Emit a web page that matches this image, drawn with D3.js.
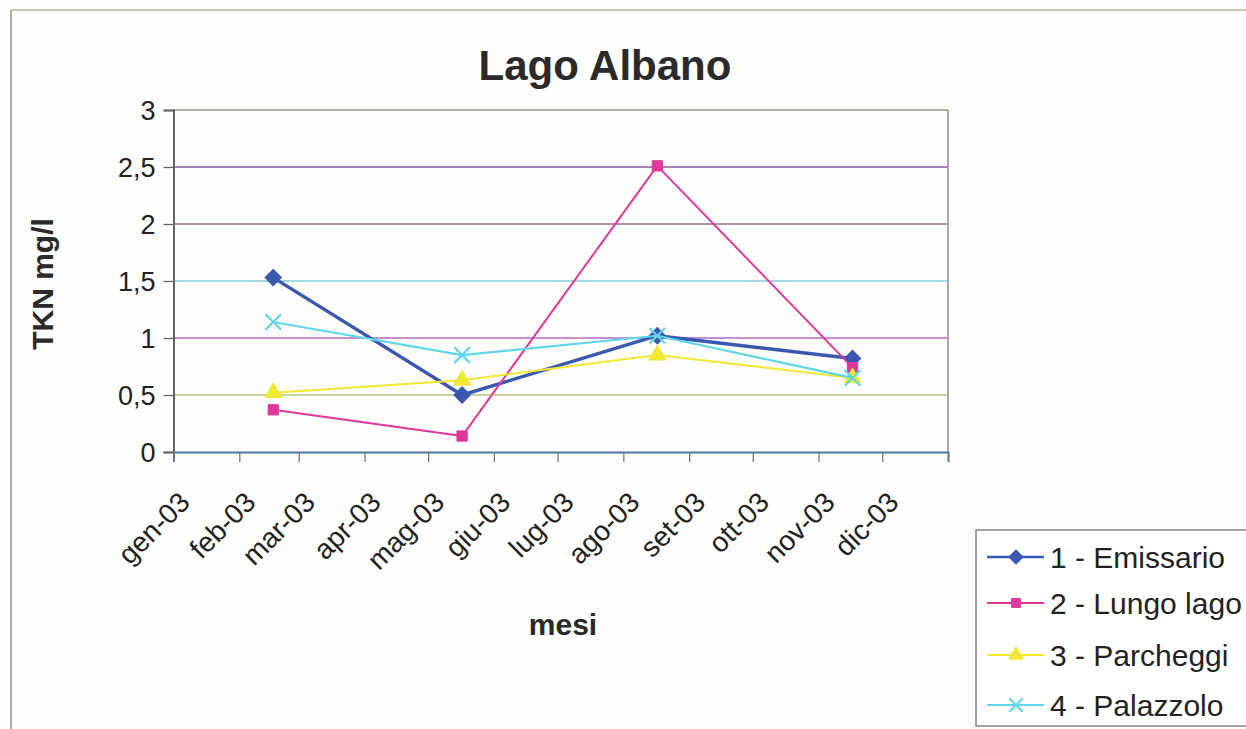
<!DOCTYPE html>
<html>
<head>
<meta charset="utf-8">
<script src="https://cdn.jsdelivr.net/npm/d3@7"></script>
<style>
  html, body { margin: 0; padding: 0; background: #fdfdfb; }
  svg { display: block; font-family: Arial, "Liberation Sans", sans-serif; }
</style>
</head>
<body>
<svg id="chart" width="1246" height="729"></svg>
<script>
// Sampling dates (2003) and TKN concentrations (mg/l) per station
const sampleDates = ["2003-02-17", "2003-05-17", "2003-08-17", "2003-11-17"];
const emissario  = [1.53, 0.50, 1.02, 0.82];
const lungoLago  = [0.37, 0.14, 2.51, 0.74];
const parcheggi  = [0.52, 0.63, 0.85, 0.65];
const palazzolo  = [1.14, 0.85, 1.02, 0.65];

const seriesNames = ["1 - Emissario", "2 - Lungo lago", "3 - Parcheggi", "4 - Palazzolo"];
const monthLabels = ["gen-03", "feb-03", "mar-03", "apr-03", "mag-03", "giu-03",
                     "lug-03", "ago-03", "set-03", "ott-03", "nov-03", "dic-03"];
const yTicks = [0, 0.5, 1, 1.5, 2, 2.5, 3];

const parse = d3.timeParse("%Y-%m-%d");
const seriesValues = [emissario, lungoLago, parcheggi, palazzolo];
const series = seriesNames.map((name, i) => ({
  name,
  points: sampleDates.map((d, j) => ({ date: parse(d), value: seriesValues[i][j] }))
}));

// marker styles: the diamond is a square turned by 45 degrees
const styles = [
  { color: "#3a58b0", width: 3.4, symbol: d3.symbolSquare,   size: 135, rotate: 45 },
  { color: "#e0379a", width: 2,   symbol: d3.symbolSquare,   size: 105, rotate: 0 },
  { color: "#f2e832", width: 2,   symbol: d3.symbolTriangle, size: 125, rotate: 0 },
  { color: "#5fd6ea", width: 2.2, symbol: d3.symbolX,        size: 160, rotate: 0 }
];

const svg = d3.select("#chart");

// outer chart frame
svg.append("line").attr("x1", 11).attr("y1", 10).attr("x2", 1246).attr("y2", 10)
  .attr("stroke", "#b9b7a0").attr("stroke-width", 1.5);
svg.append("line").attr("x1", 11).attr("y1", 10).attr("x2", 11).attr("y2", 729)
  .attr("stroke", "#8e8e8e").attr("stroke-width", 1.5);

const plot = { left: 173.5, right: 948, top: 110, bottom: 452 };

const x = d3.scaleTime()
  .domain([new Date(2003, 0, 1), new Date(2004, 0, 1)])
  .range([plot.left, plot.right]);
const y = d3.scaleLinear().domain([0, 3]).range([plot.bottom, plot.top]);

// horizontal gridlines
const gridColors = { 0.5: "#b3c47a", 1: "#b36ac6", 1.5: "#86cad6", 2: "#9a6a8a", 2.5: "#8d5aa0", 3: "#8f9a8f" };
svg.append("g").selectAll("line")
  .data(yTicks.filter(t => t > 0))
  .join("line")
  .attr("x1", plot.left).attr("x2", plot.right)
  .attr("y1", d => y(d)).attr("y2", d => y(d))
  .attr("stroke", d => gridColors[d]).attr("stroke-width", 1.6);

// right border of plot area
svg.append("line")
  .attr("x1", plot.right).attr("x2", plot.right)
  .attr("y1", plot.top).attr("y2", plot.bottom)
  .attr("stroke", "#a0a0a0").attr("stroke-width", 1.8);

// y axis
const yAxis = svg.append("g")
  .attr("transform", `translate(${plot.left},0)`)
  .call(d3.axisLeft(y).tickValues(yTicks).tickSize(10).tickPadding(8)
    .tickFormat(d => String(d).replace(".", ",")));
yAxis.select(".domain").attr("stroke", "#555").attr("stroke-width", 1.8);
yAxis.selectAll(".tick line").attr("stroke", "#666").attr("stroke-width", 1.3);
yAxis.selectAll(".tick text").attr("font-size", 27).attr("fill", "#222").attr("dy", "0.36em");

// x axis with month ticks
const monthTicks = d3.timeMonth.range(new Date(2003, 0, 1), new Date(2004, 0, 2));
const xAxis = svg.append("g")
  .attr("transform", `translate(0,${plot.bottom})`)
  .call(d3.axisBottom(x).tickValues(monthTicks).tickSize(10).tickFormat(() => ""));
xAxis.select(".domain").attr("stroke", "#4f76a8").attr("stroke-width", 2);
xAxis.selectAll(".tick line").attr("stroke", "#777").attr("stroke-width", 1.3);

// rotated month labels
svg.append("g").selectAll("text")
  .data(monthLabels)
  .join("text")
  .attr("transform", (d, i) => `translate(${x(monthTicks[i]) + 18},${plot.bottom + 52}) rotate(-45)`)
  .attr("text-anchor", "end")
  .attr("font-size", 28)
  .attr("fill", "#222")
  .text(d => d);

// series lines and markers
const line = d3.line().x(d => x(d.date)).y(d => y(d.value));
series.forEach((s, i) => {
  const st = styles[i];
  svg.append("path")
    .datum(s.points)
    .attr("d", line)
    .attr("fill", "none")
    .attr("stroke", st.color)
    .attr("stroke-width", st.width)
    .attr("stroke-linejoin", "round");
  svg.append("g").selectAll("path")
    .data(s.points)
    .join("path")
    .attr("transform", d => `translate(${x(d.date)},${y(d.value)}) rotate(${st.rotate})`)
    .attr("d", d3.symbol().type(st.symbol).size(st.size))
    .attr("fill", st.symbol === d3.symbolX ? "none" : st.color)
    .attr("stroke", st.color)
    .attr("stroke-width", st.symbol === d3.symbolX ? 2.2 : 1);
});

// titles
svg.append("text")
  .attr("x", 605).attr("y", 80)
  .attr("text-anchor", "middle")
  .attr("font-size", 42).attr("font-weight", "bold").attr("fill", "#2a2a2a")
  .text("Lago Albano");

svg.append("text")
  .attr("transform", "translate(53,284) rotate(-90)")
  .attr("text-anchor", "middle")
  .attr("font-size", 30).attr("font-weight", "bold").attr("fill", "#2a2a2a")
  .text("TKN mg/l");

svg.append("text")
  .attr("x", 563).attr("y", 635)
  .attr("text-anchor", "middle")
  .attr("font-size", 30).attr("font-weight", "bold").attr("fill", "#2a2a2a")
  .text("mesi");

// legend
const legend = svg.append("g");
legend.append("rect")
  .attr("x", 976).attr("y", 530).attr("width", 300).attr("height", 196)
  .attr("fill", "#ffffff").attr("stroke", "#8a8a8a").attr("stroke-width", 1.6);
const legendY = [557, 603, 655, 705];
series.forEach((s, i) => {
  const st = styles[i];
  const g = legend.append("g").attr("transform", `translate(0,${legendY[i]})`);
  g.append("line").attr("x1", 987).attr("x2", 1044).attr("y1", 0).attr("y2", 0)
    .attr("stroke", st.color).attr("stroke-width", i === 0 ? 2.5 : 2);
  g.append("path")
    .attr("transform", `translate(1016,0) rotate(${st.rotate})`)
    .attr("d", d3.symbol().type(st.symbol).size(st.size * 0.75))
    .attr("fill", st.symbol === d3.symbolX ? "none" : st.color)
    .attr("stroke", st.color)
    .attr("stroke-width", st.symbol === d3.symbolX ? 2 : 1);
  g.append("text")
    .attr("x", 1050).attr("y", 0).attr("dy", "0.36em")
    .attr("font-size", 30).attr("fill", "#222")
    .text(s.name);
});
</script>
</body>
</html>
